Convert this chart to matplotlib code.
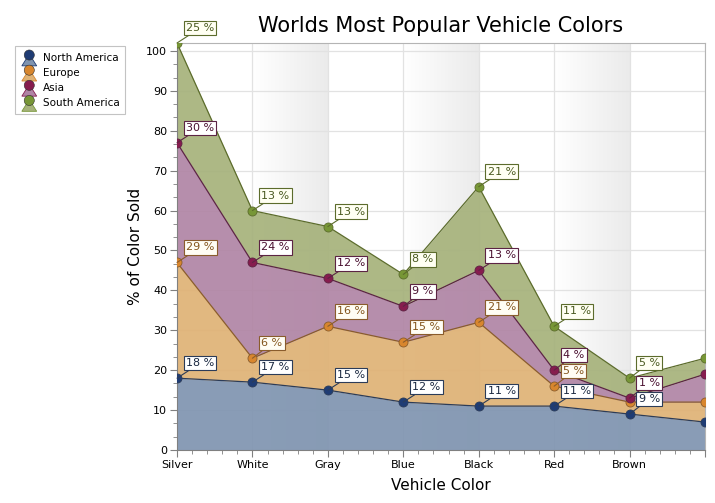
import numpy as np
import matplotlib.pyplot as plt
from matplotlib.legend_handler import HandlerBase
from matplotlib.patches import Patch, Polygon, Circle
from matplotlib.colors import LinearSegmentedColormap

# dados do grafico
categorias = ['Silver', 'White', 'Gray', 'Blue', 'Black', 'Red', 'Brown', '']
regioes = ['North America', 'Europe', 'Asia', 'South America']
north_america = [18, 17, 15, 12, 11, 11, 9, 7]
europe = [29, 6, 16, 15, 21, 5, 3, 5]
asia = [30, 24, 12, 9, 13, 4, 1, 7]
south_america = [25, 13, 13, 8, 21, 11, 5, 4]

valores = [north_america, europe, asia, south_america]
cor_area = ['#7f94b0', '#dfb275', '#b085a5', '#a6b27b']
cor_linha = ['#2c3c58', '#8a5c2c', '#5c2444', '#5c6c2c']
cor_ponto = ['#1f3c74', '#d8862e', '#861c4e', '#779636']
cor_texto = ['#1a2840', '#84561e', '#4a1030', '#4a5a20']
cor_caixa = ['#ffffff', '#fffdf4', '#ffffff', '#fffff2']


class HandlerPessoa(HandlerBase):
    def create_artists(self, legend, orig, xd, yd, w, h, fontsize, trans):
        x0, y0 = -xd, -yd
        corpo = Polygon([[x0 + w * 0.08, y0 - h * 0.2], [x0 + w * 0.92, y0 - h * 0.2],
                         [x0 + w * 0.64, y0 + h * 0.45], [x0 + w * 0.36, y0 + h * 0.45]],
                        closed=True, facecolor=orig.get_facecolor(),
                        edgecolor=orig.get_edgecolor(), lw=0.6, transform=trans)
        cabeca = Circle((x0 + w / 2, y0 + h * 0.7), h * 0.42,
                        facecolor=orig.get_edgecolor(), edgecolor='#303030', lw=0.4,
                        transform=trans)
        return [corpo, cabeca]


fig = plt.figure(figsize=(7.15, 5.03), dpi=100)
ax = fig.add_axes([177 / 715, 53 / 503, 528 / 715, 407 / 503])
x = np.arange(len(categorias))
ax.set_xlim(0, len(categorias) - 1)
ax.set_ylim(0, 102)

# faixas com degrade
cmap = LinearSegmentedColormap.from_list('faixa', ['#ffffff', '#ebebeb'])
grad = np.linspace(0, 1, 100).reshape(1, -1)
for i in (1, 3, 5):
    ax.imshow(grad, cmap=cmap, extent=(i, i + 1, 0, 102), aspect='auto', zorder=0)

ax.set_axisbelow(True)
ax.grid(True, color='#e2e2e2', lw=0.9, zorder=0.5)

base = np.zeros(len(categorias))
topos = []
for k, v in enumerate(valores):
    topo = base + np.array(v)
    ax.fill_between(x, base, topo, color=cor_area[k], alpha=0.92, lw=0, zorder=2)
    topos.append(topo)
    base = topo
for k, topo in enumerate(topos):
    ax.plot(x, topo, color=cor_linha[k], lw=0.9, zorder=3)
    ax.plot(x, topo, 'o', ms=6.5, mfc=cor_ponto[k], mec=cor_linha[k], mew=0.6, zorder=4)

# rotulos, de cima para baixo, escondendo os que se sobrepoem
fig.canvas.draw()
ocupados = {}
for k in range(len(valores) - 1, -1, -1):
    for i in range(len(categorias)):
        px, py = ax.transData.transform((x[i], topos[k][i]))
        if px + 45 > ax.transData.transform((x[-1], 0))[0]:
            continue
        yc = py + 15
        lista = ocupados.setdefault(i, [])
        if any(abs(yc - o) < 13 for o in lista):
            continue
        lista.append(yc)
        ax.annotate('%d %%' % valores[k][i], xy=(x[i], topos[k][i]), xytext=(9, 15),
                    textcoords='offset pixels', ha='left', va='center', fontsize=8,
                    color=cor_texto[k], zorder=6, annotation_clip=False,
                    bbox=dict(boxstyle='square,pad=0.2', fc=cor_caixa[k], ec=cor_linha[k], lw=0.8),
                    arrowprops=dict(arrowstyle='-', color=cor_linha[k], lw=0.8,
                                    shrinkA=0, shrinkB=0))

ax.set_xticks(x)
ax.set_xticklabels(categorias, fontsize=8)
ax.set_xticks(np.arange(0, len(categorias) - 1 + 0.01, 0.2), minor=True)
ax.set_yticks(np.arange(0, 101, 10))
ax.set_yticks(np.arange(0, 101, 10 / 3), minor=True)
ax.tick_params(axis='both', which='major', length=5, color='#808080', labelsize=8, pad=2)
ax.tick_params(axis='both', which='minor', length=3, color='#808080')
for lado in ('top', 'right'):
    ax.spines[lado].set_color('#b4b4b4')
for lado in ('left', 'bottom'):
    ax.spines[lado].set_color('#808080')

ax.set_title('Worlds Most Popular Vehicle Colors', fontsize=15, pad=8)
ax.set_xlabel('Vehicle Color', fontsize=11, labelpad=6)
ax.set_ylabel('% of Color Sold', fontsize=11, labelpad=2)

handles = [Patch(facecolor=cor_area[k], edgecolor=cor_ponto[k]) for k in range(len(regioes))]
leg = fig.legend(handles, regioes, loc='upper left', bbox_to_anchor=(10 / 715, 1 - 41 / 503),
                 fontsize=7.5, frameon=True, fancybox=False, edgecolor='#b4b4b4',
                 handlelength=1.7, handleheight=1.4, handletextpad=0.5, borderpad=0.5,
                 labelspacing=0.3, handler_map={Patch: HandlerPessoa()})
leg.get_frame().set_linewidth(0.8)

fig.savefig('out.png', dpi=100)
